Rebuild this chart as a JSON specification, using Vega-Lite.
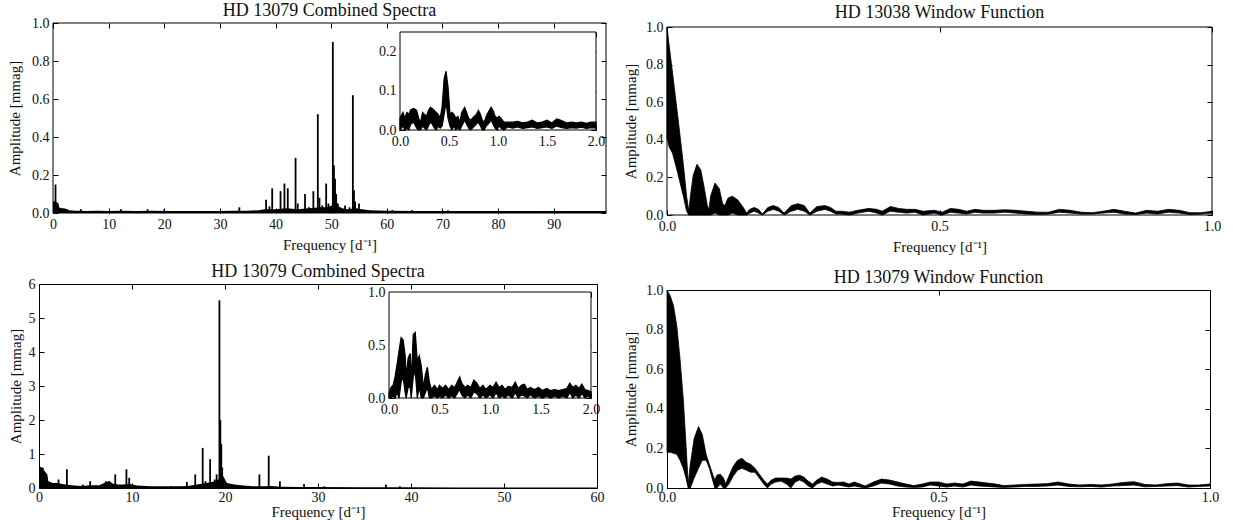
{
  "$schema": "https://vega.github.io/schema/vega-lite/v6.json",
  "padding": {"left": 7, "top": 2, "right": 0, "bottom": 0},
  "spacing": 16,
  "datasets": {
    "tlNoise": [
      {"f":0,"a":0.06},{"f":0.3,"a":0.06},{"f":0.8,"a":0.055},{"f":1.0,"a":0.05},{"f":1.1,"a":0.03},{"f":1.5,"a":0.025},{"f":2.0,"a":0.025},{"f":2.5,"a":0.02},{"f":3,"a":0.015},{"f":4,"a":0.012},{"f":5,"a":0.012},{"f":6,"a":0.01},{"f":8,"a":0.012},{"f":10,"a":0.01},{"f":12,"a":0.012},{"f":15,"a":0.01},{"f":18,"a":0.012},{"f":20,"a":0.01},{"f":25,"a":0.01},{"f":30,"a":0.01},{"f":33,"a":0.012},{"f":35,"a":0.012},{"f":37,"a":0.015},{"f":38,"a":0.02},{"f":40,"a":0.02},{"f":42,"a":0.025},{"f":44,"a":0.02},{"f":46,"a":0.025},{"f":48,"a":0.03},{"f":49.5,"a":0.03},{"f":50,"a":0.04},{"f":51,"a":0.04},{"f":52,"a":0.025},{"f":53,"a":0.02},{"f":54.5,"a":0.025},{"f":55.5,"a":0.02},{"f":57,"a":0.015},{"f":60,"a":0.012},{"f":65,"a":0.01},{"f":70,"a":0.01},{"f":75,"a":0.01},{"f":80,"a":0.01},{"f":85,"a":0.01},{"f":90,"a":0.01},{"f":95,"a":0.01},{"f":99.4,"a":0.01}
    ],
    "tlSpikes": [
      {"f":0.2,"a":0.06},{"f":0.45,"a":0.15},{"f":5.0,"a":0.02},{"f":12.2,"a":0.02},{"f":17,"a":0.02},{"f":20,"a":0.018},{"f":33.5,"a":0.03},{"f":38.3,"a":0.07},{"f":38.9,"a":0.035},{"f":39.4,"a":0.13},{"f":40.9,"a":0.115},{"f":41.6,"a":0.155},{"f":42.2,"a":0.13},{"f":43.6,"a":0.29},{"f":44.0,"a":0.05},{"f":45.3,"a":0.1},{"f":46.0,"a":0.03},{"f":46.8,"a":0.115},{"f":47.6,"a":0.52},{"f":47.9,"a":0.08},{"f":48.4,"a":0.04},{"f":49.1,"a":0.155},{"f":49.5,"a":0.05},{"f":50.3,"a":0.9},{"f":50.5,"a":0.25},{"f":50.7,"a":0.18},{"f":50.9,"a":0.1},{"f":51.2,"a":0.05},{"f":52.5,"a":0.04},{"f":53.3,"a":0.03},{"f":53.9,"a":0.62},{"f":54.1,"a":0.12},{"f":54.3,"a":0.06},{"f":55.0,"a":0.05},{"f":61,"a":0.015},{"f":64.5,"a":0.015},{"f":71,"a":0.015}
    ],
    "tlInset": [
      {"f":0.00,"lo":0.0,"hi":0.03},{"f":0.03,"lo":0.01,"hi":0.045},{"f":0.05,"lo":0.0,"hi":0.03},{"f":0.07,"lo":0.005,"hi":0.045},{"f":0.09,"lo":0.0,"hi":0.04},{"f":0.11,"lo":0.015,"hi":0.052},{"f":0.14,"lo":0.02,"hi":0.055},{"f":0.17,"lo":0.005,"hi":0.05},{"f":0.19,"lo":0.0,"hi":0.03},{"f":0.21,"lo":0.0,"hi":0.02},{"f":0.23,"lo":0.01,"hi":0.045},{"f":0.25,"lo":0.005,"hi":0.04},{"f":0.27,"lo":0.0,"hi":0.035},{"f":0.29,"lo":0.01,"hi":0.05},{"f":0.31,"lo":0.02,"hi":0.058},{"f":0.33,"lo":0.015,"hi":0.055},{"f":0.35,"lo":0.005,"hi":0.05},{"f":0.37,"lo":0.0,"hi":0.045},{"f":0.39,"lo":0.01,"hi":0.04},{"f":0.41,"lo":0.005,"hi":0.03},{"f":0.43,"lo":0.01,"hi":0.06},{"f":0.45,"lo":0.04,"hi":0.13},{"f":0.47,"lo":0.07,"hi":0.15},{"f":0.49,"lo":0.03,"hi":0.11},{"f":0.51,"lo":0.01,"hi":0.04},{"f":0.53,"lo":0.0,"hi":0.045},{"f":0.55,"lo":0.01,"hi":0.04},{"f":0.57,"lo":0.0,"hi":0.03},{"f":0.59,"lo":0.005,"hi":0.035},{"f":0.61,"lo":0.0,"hi":0.02},{"f":0.63,"lo":0.01,"hi":0.045},{"f":0.66,"lo":0.025,"hi":0.058},{"f":0.68,"lo":0.015,"hi":0.045},{"f":0.70,"lo":0.005,"hi":0.03},{"f":0.72,"lo":0.0,"hi":0.025},{"f":0.74,"lo":0.005,"hi":0.03},{"f":0.76,"lo":0.01,"hi":0.035},{"f":0.78,"lo":0.015,"hi":0.04},{"f":0.80,"lo":0.02,"hi":0.05},{"f":0.82,"lo":0.01,"hi":0.04},{"f":0.84,"lo":0.0,"hi":0.025},{"f":0.86,"lo":0.0,"hi":0.02},{"f":0.88,"lo":0.01,"hi":0.035},{"f":0.90,"lo":0.015,"hi":0.045},{"f":0.93,"lo":0.025,"hi":0.058},{"f":0.95,"lo":0.015,"hi":0.05},{"f":0.97,"lo":0.005,"hi":0.035},{"f":0.99,"lo":0.0,"hi":0.03},{"f":1.01,"lo":0.01,"hi":0.035},{"f":1.03,"lo":0.005,"hi":0.03},{"f":1.06,"lo":0.0,"hi":0.02},{"f":1.10,"lo":0.008,"hi":0.02},{"f":1.15,"lo":0.005,"hi":0.02},{"f":1.20,"lo":0.008,"hi":0.022},{"f":1.25,"lo":0.004,"hi":0.018},{"f":1.30,"lo":0.006,"hi":0.02},{"f":1.35,"lo":0.008,"hi":0.025},{"f":1.40,"lo":0.004,"hi":0.018},{"f":1.45,"lo":0.006,"hi":0.02},{"f":1.50,"lo":0.008,"hi":0.025},{"f":1.55,"lo":0.004,"hi":0.018},{"f":1.60,"lo":0.01,"hi":0.028},{"f":1.65,"lo":0.006,"hi":0.024},{"f":1.70,"lo":0.004,"hi":0.018},{"f":1.75,"lo":0.006,"hi":0.02},{"f":1.80,"lo":0.005,"hi":0.018},{"f":1.85,"lo":0.007,"hi":0.02},{"f":1.90,"lo":0.004,"hi":0.017},{"f":1.95,"lo":0.006,"hi":0.02},{"f":2.00,"lo":0.005,"hi":0.02}
    ],
    "blNoise": [
      {"f":0,"a":0.55},{"f":0.3,"a":0.6},{"f":0.6,"a":0.5},{"f":0.9,"a":0.4},{"f":1.0,"a":0.2},{"f":1.5,"a":0.15},{"f":2.0,"a":0.15},{"f":2.5,"a":0.12},{"f":3.5,"a":0.08},{"f":4.5,"a":0.06},{"f":5.5,"a":0.08},{"f":6.5,"a":0.08},{"f":7.0,"a":0.15},{"f":7.6,"a":0.2},{"f":8.0,"a":0.12},{"f":8.5,"a":0.1},{"f":9.0,"a":0.1},{"f":9.8,"a":0.12},{"f":10.5,"a":0.07},{"f":12,"a":0.05},{"f":14,"a":0.05},{"f":15,"a":0.05},{"f":16,"a":0.06},{"f":17,"a":0.1},{"f":18,"a":0.15},{"f":19,"a":0.2},{"f":19.8,"a":0.35},{"f":20.2,"a":0.15},{"f":21,"a":0.1},{"f":22,"a":0.07},{"f":23,"a":0.05},{"f":24,"a":0.05},{"f":25,"a":0.06},{"f":26,"a":0.04},{"f":28,"a":0.03},{"f":30,"a":0.03},{"f":35,"a":0.02},{"f":40,"a":0.02},{"f":45,"a":0.015},{"f":50,"a":0.015},{"f":55,"a":0.015},{"f":60,"a":0.015}
    ],
    "blSpikes": [
      {"f":0.15,"a":0.62},{"f":0.4,"a":0.6},{"f":2.1,"a":0.25},{"f":3.0,"a":0.55},{"f":4.7,"a":0.1},{"f":5.5,"a":0.2},{"f":7.2,"a":0.2},{"f":7.5,"a":0.2},{"f":8.2,"a":0.4},{"f":9.4,"a":0.55},{"f":9.7,"a":0.3},{"f":11.0,"a":0.06},{"f":14.2,"a":0.05},{"f":15.9,"a":0.18},{"f":16.8,"a":0.4},{"f":17.6,"a":1.18},{"f":17.9,"a":0.2},{"f":18.4,"a":0.85},{"f":18.9,"a":0.25},{"f":19.1,"a":0.4},{"f":19.4,"a":5.52},{"f":19.5,"a":2.0},{"f":19.6,"a":1.3},{"f":19.7,"a":0.6},{"f":23.7,"a":0.4},{"f":24.7,"a":0.95},{"f":25.9,"a":0.2},{"f":28.5,"a":0.12},{"f":30.7,"a":0.05},{"f":37.3,"a":0.1},{"f":38.8,"a":0.05}
    ],
    "blInset": [
      {"f":0.00,"lo":0.0,"hi":0.05},{"f":0.02,"lo":0.0,"hi":0.1},{"f":0.04,"lo":0.02,"hi":0.12},{"f":0.06,"lo":0.0,"hi":0.2},{"f":0.08,"lo":0.05,"hi":0.32},{"f":0.10,"lo":0.0,"hi":0.45},{"f":0.12,"lo":0.15,"hi":0.57},{"f":0.14,"lo":0.2,"hi":0.55},{"f":0.16,"lo":0.05,"hi":0.4},{"f":0.17,"lo":0.0,"hi":0.2},{"f":0.19,"lo":0.1,"hi":0.38},{"f":0.21,"lo":0.1,"hi":0.42},{"f":0.22,"lo":0.0,"hi":0.15},{"f":0.24,"lo":0.2,"hi":0.6},{"f":0.26,"lo":0.25,"hi":0.62},{"f":0.28,"lo":0.0,"hi":0.35},{"f":0.30,"lo":0.1,"hi":0.4},{"f":0.32,"lo":0.0,"hi":0.3},{"f":0.34,"lo":0.0,"hi":0.1},{"f":0.36,"lo":0.05,"hi":0.22},{"f":0.38,"lo":0.1,"hi":0.29},{"f":0.40,"lo":0.0,"hi":0.15},{"f":0.42,"lo":0.0,"hi":0.08},{"f":0.45,"lo":0.02,"hi":0.12},{"f":0.48,"lo":0.0,"hi":0.08},{"f":0.50,"lo":0.02,"hi":0.12},{"f":0.53,"lo":0.0,"hi":0.09},{"f":0.56,"lo":0.03,"hi":0.12},{"f":0.59,"lo":0.0,"hi":0.08},{"f":0.62,"lo":0.02,"hi":0.12},{"f":0.65,"lo":0.0,"hi":0.1},{"f":0.68,"lo":0.05,"hi":0.16},{"f":0.70,"lo":0.08,"hi":0.2},{"f":0.72,"lo":0.03,"hi":0.14},{"f":0.75,"lo":0.0,"hi":0.1},{"f":0.78,"lo":0.03,"hi":0.12},{"f":0.81,"lo":0.0,"hi":0.1},{"f":0.84,"lo":0.06,"hi":0.17},{"f":0.87,"lo":0.04,"hi":0.14},{"f":0.90,"lo":0.0,"hi":0.09},{"f":0.93,"lo":0.03,"hi":0.12},{"f":0.96,"lo":0.0,"hi":0.08},{"f":1.00,"lo":0.03,"hi":0.12},{"f":1.03,"lo":0.0,"hi":0.1},{"f":1.06,"lo":0.05,"hi":0.15},{"f":1.09,"lo":0.0,"hi":0.1},{"f":1.12,"lo":0.02,"hi":0.12},{"f":1.15,"lo":0.0,"hi":0.08},{"f":1.18,"lo":0.03,"hi":0.11},{"f":1.22,"lo":0.0,"hi":0.1},{"f":1.25,"lo":0.05,"hi":0.15},{"f":1.28,"lo":0.0,"hi":0.09},{"f":1.31,"lo":0.03,"hi":0.12},{"f":1.34,"lo":0.02,"hi":0.13},{"f":1.37,"lo":0.0,"hi":0.08},{"f":1.40,"lo":0.03,"hi":0.1},{"f":1.44,"lo":0.0,"hi":0.08},{"f":1.48,"lo":0.02,"hi":0.1},{"f":1.52,"lo":0.0,"hi":0.07},{"f":1.56,"lo":0.02,"hi":0.09},{"f":1.60,"lo":0.0,"hi":0.07},{"f":1.64,"lo":0.02,"hi":0.08},{"f":1.68,"lo":0.0,"hi":0.07},{"f":1.72,"lo":0.02,"hi":0.08},{"f":1.76,"lo":0.0,"hi":0.09},{"f":1.79,"lo":0.05,"hi":0.14},{"f":1.82,"lo":0.0,"hi":0.1},{"f":1.85,"lo":0.03,"hi":0.12},{"f":1.88,"lo":0.0,"hi":0.09},{"f":1.91,"lo":0.04,"hi":0.13},{"f":1.94,"lo":0.0,"hi":0.08},{"f":1.97,"lo":0.02,"hi":0.07},{"f":2.00,"lo":0.0,"hi":0.06}
    ],
    "trWin": [
      {"f":0.000,"lo":0.41,"hi":1.0},{"f":0.004,"lo":0.36,"hi":0.9},{"f":0.010,"lo":0.33,"hi":0.76},{"f":0.020,"lo":0.22,"hi":0.52},{"f":0.030,"lo":0.1,"hi":0.27},{"f":0.036,"lo":0.02,"hi":0.1},{"f":0.040,"lo":0.0,"hi":0.02},{"f":0.043,"lo":0.0,"hi":0.1},{"f":0.048,"lo":0.0,"hi":0.21},{"f":0.055,"lo":0.0,"hi":0.27},{"f":0.062,"lo":0.0,"hi":0.24},{"f":0.068,"lo":0.0,"hi":0.15},{"f":0.074,"lo":0.0,"hi":0.05},{"f":0.077,"lo":0.0,"hi":0.03},{"f":0.080,"lo":0.0,"hi":0.1},{"f":0.088,"lo":0.01,"hi":0.17},{"f":0.096,"lo":0.0,"hi":0.14},{"f":0.102,"lo":0.0,"hi":0.06},{"f":0.106,"lo":0.0,"hi":0.05},{"f":0.112,"lo":0.0,"hi":0.09},{"f":0.120,"lo":0.01,"hi":0.1},{"f":0.130,"lo":0.0,"hi":0.08},{"f":0.140,"lo":0.0,"hi":0.04},{"f":0.146,"lo":0.0,"hi":0.01},{"f":0.152,"lo":0.01,"hi":0.03},{"f":0.160,"lo":0.02,"hi":0.04},{"f":0.168,"lo":0.01,"hi":0.03},{"f":0.175,"lo":0.0,"hi":0.005},{"f":0.185,"lo":0.02,"hi":0.04},{"f":0.195,"lo":0.03,"hi":0.05},{"f":0.205,"lo":0.02,"hi":0.04},{"f":0.215,"lo":0.0,"hi":0.01},{"f":0.228,"lo":0.02,"hi":0.05},{"f":0.240,"lo":0.03,"hi":0.06},{"f":0.252,"lo":0.02,"hi":0.05},{"f":0.262,"lo":0.0,"hi":0.01},{"f":0.275,"lo":0.02,"hi":0.045},{"f":0.290,"lo":0.03,"hi":0.05},{"f":0.300,"lo":0.02,"hi":0.04},{"f":0.310,"lo":0.005,"hi":0.02},{"f":0.320,"lo":0.005,"hi":0.02},{"f":0.335,"lo":0.0,"hi":0.015},{"f":0.350,"lo":0.01,"hi":0.025},{"f":0.370,"lo":0.02,"hi":0.035},{"f":0.385,"lo":0.01,"hi":0.03},{"f":0.395,"lo":0.0,"hi":0.02},{"f":0.410,"lo":0.02,"hi":0.045},{"f":0.425,"lo":0.015,"hi":0.035},{"f":0.440,"lo":0.01,"hi":0.03},{"f":0.455,"lo":0.015,"hi":0.03},{"f":0.470,"lo":0.0,"hi":0.02},{"f":0.490,"lo":0.01,"hi":0.025},{"f":0.505,"lo":0.0,"hi":0.015},{"f":0.520,"lo":0.015,"hi":0.035},{"f":0.535,"lo":0.01,"hi":0.03},{"f":0.550,"lo":0.005,"hi":0.02},{"f":0.565,"lo":0.015,"hi":0.03},{"f":0.580,"lo":0.01,"hi":0.025},{"f":0.600,"lo":0.01,"hi":0.025},{"f":0.620,"lo":0.015,"hi":0.028},{"f":0.640,"lo":0.01,"hi":0.025},{"f":0.660,"lo":0.005,"hi":0.02},{"f":0.680,"lo":0.003,"hi":0.015},{"f":0.700,"lo":0.005,"hi":0.015},{"f":0.720,"lo":0.015,"hi":0.03},{"f":0.740,"lo":0.01,"hi":0.025},{"f":0.760,"lo":0.005,"hi":0.015},{"f":0.780,"lo":0.005,"hi":0.012},{"f":0.800,"lo":0.01,"hi":0.02},{"f":0.820,"lo":0.015,"hi":0.03},{"f":0.840,"lo":0.005,"hi":0.02},{"f":0.860,"lo":0.003,"hi":0.01},{"f":0.880,"lo":0.01,"hi":0.025},{"f":0.900,"lo":0.005,"hi":0.02},{"f":0.920,"lo":0.015,"hi":0.03},{"f":0.940,"lo":0.01,"hi":0.025},{"f":0.960,"lo":0.003,"hi":0.012},{"f":0.980,"lo":0.005,"hi":0.012},{"f":1.000,"lo":0.01,"hi":0.02}
    ],
    "brWin": [
      {"f":0.000,"lo":0.18,"hi":1.0},{"f":0.006,"lo":0.18,"hi":0.97},{"f":0.012,"lo":0.175,"hi":0.92},{"f":0.018,"lo":0.17,"hi":0.82},{"f":0.024,"lo":0.14,"hi":0.65},{"f":0.030,"lo":0.1,"hi":0.45},{"f":0.035,"lo":0.05,"hi":0.22},{"f":0.039,"lo":0.0,"hi":0.02},{"f":0.043,"lo":0.0,"hi":0.12},{"f":0.050,"lo":0.05,"hi":0.25},{"f":0.058,"lo":0.1,"hi":0.31},{"f":0.065,"lo":0.14,"hi":0.27},{"f":0.072,"lo":0.14,"hi":0.17},{"f":0.078,"lo":0.1,"hi":0.12},{"f":0.084,"lo":0.04,"hi":0.07},{"f":0.088,"lo":0.0,"hi":0.04},{"f":0.092,"lo":0.0,"hi":0.065},{"f":0.098,"lo":0.02,"hi":0.07},{"f":0.104,"lo":0.0,"hi":0.05},{"f":0.108,"lo":0.0,"hi":0.02},{"f":0.114,"lo":0.02,"hi":0.06},{"f":0.122,"lo":0.06,"hi":0.11},{"f":0.130,"lo":0.09,"hi":0.14},{"f":0.138,"lo":0.1,"hi":0.15},{"f":0.146,"lo":0.09,"hi":0.13},{"f":0.154,"lo":0.08,"hi":0.12},{"f":0.162,"lo":0.08,"hi":0.1},{"f":0.170,"lo":0.05,"hi":0.07},{"f":0.178,"lo":0.02,"hi":0.04},{"f":0.185,"lo":0.0,"hi":0.02},{"f":0.192,"lo":0.02,"hi":0.04},{"f":0.200,"lo":0.03,"hi":0.05},{"f":0.210,"lo":0.035,"hi":0.05},{"f":0.220,"lo":0.02,"hi":0.05},{"f":0.228,"lo":0.0,"hi":0.045},{"f":0.236,"lo":0.03,"hi":0.06},{"f":0.244,"lo":0.04,"hi":0.065},{"f":0.252,"lo":0.03,"hi":0.055},{"f":0.260,"lo":0.01,"hi":0.035},{"f":0.268,"lo":0.0,"hi":0.02},{"f":0.276,"lo":0.02,"hi":0.04},{"f":0.285,"lo":0.03,"hi":0.055},{"f":0.295,"lo":0.02,"hi":0.045},{"f":0.305,"lo":0.01,"hi":0.03},{"f":0.315,"lo":0.015,"hi":0.028},{"f":0.325,"lo":0.01,"hi":0.03},{"f":0.335,"lo":0.005,"hi":0.02},{"f":0.345,"lo":0.01,"hi":0.03},{"f":0.355,"lo":0.005,"hi":0.02},{"f":0.365,"lo":0.0,"hi":0.01},{"f":0.38,"lo":0.01,"hi":0.03},{"f":0.395,"lo":0.025,"hi":0.045},{"f":0.41,"lo":0.02,"hi":0.04},{"f":0.425,"lo":0.01,"hi":0.03},{"f":0.44,"lo":0.005,"hi":0.02},{"f":0.455,"lo":0.003,"hi":0.012},{"f":0.47,"lo":0.005,"hi":0.02},{"f":0.485,"lo":0.015,"hi":0.03},{"f":0.5,"lo":0.01,"hi":0.03},{"f":0.515,"lo":0.005,"hi":0.02},{"f":0.53,"lo":0.01,"hi":0.025},{"f":0.545,"lo":0.005,"hi":0.02},{"f":0.56,"lo":0.015,"hi":0.035},{"f":0.575,"lo":0.01,"hi":0.03},{"f":0.59,"lo":0.008,"hi":0.025},{"f":0.605,"lo":0.005,"hi":0.02},{"f":0.62,"lo":0.003,"hi":0.012},{"f":0.64,"lo":0.005,"hi":0.015},{"f":0.66,"lo":0.008,"hi":0.018},{"f":0.68,"lo":0.008,"hi":0.02},{"f":0.7,"lo":0.01,"hi":0.022},{"f":0.72,"lo":0.015,"hi":0.03},{"f":0.74,"lo":0.008,"hi":0.02},{"f":0.76,"lo":0.006,"hi":0.015},{"f":0.78,"lo":0.008,"hi":0.018},{"f":0.8,"lo":0.005,"hi":0.015},{"f":0.82,"lo":0.01,"hi":0.02},{"f":0.84,"lo":0.012,"hi":0.028},{"f":0.86,"lo":0.015,"hi":0.032},{"f":0.88,"lo":0.006,"hi":0.018},{"f":0.9,"lo":0.008,"hi":0.015},{"f":0.92,"lo":0.01,"hi":0.022},{"f":0.94,"lo":0.012,"hi":0.025},{"f":0.96,"lo":0.005,"hi":0.015},{"f":0.98,"lo":0.008,"hi":0.015},{"f":1.0,"lo":0.01,"hi":0.02}
    ],
    "tlFrame": [{"x0":0,"x1":2,"y0":0,"y1":0.25}],
    "blFrame": [{"x0":0,"x1":2,"y0":0,"y1":1}],
    "tlBox": [{"x0":0,"x1":99.4,"y0":0,"y1":1}],
    "trBox": [{"x0":0,"x1":1,"y0":0,"y1":1}]
  },
  "hconcat": [
    {
      "spacing": 10,
      "vconcat": [
        {
          "width": 567, "height": 190,
          "view": {"stroke": null},
          "title": {"text": "HD 13079 Combined Spectra", "dx": 7},
          "layer": [
            {
              "layer": [
                {
                  "data": {"name": "tlNoise"},
                  "mark": {"type": "area", "color": "black"},
                  "encoding": {
                    "x": {"field": "f", "type": "quantitative", "scale": {"domain": [0, 99.4], "range": [14, 567], "nice": false, "zero": false},
                          "axis": {"orient": "bottom", "values": [0,10,20,30,40,50,60,70,80,90], "format": "d", "title": "Frequency [d⁻¹]"}},
                    "y": {"field": "a", "type": "quantitative", "scale": {"domain": [0, 1], "nice": false},
                          "axis": {"orient": "left", "offset": -14, "values": [0,0.2,0.4,0.6,0.8,1.0], "format": ".1f", "title": "Amplitude [mmag]", "titlePadding": 9}}
                  }
                },
                {
                  "data": {"name": "tlSpikes"},
                  "mark": {"type": "rule", "color": "black", "strokeWidth": 1.8},
                  "encoding": {
                    "x": {"field": "f", "type": "quantitative", "axis": null},
                    "y": {"field": "a", "type": "quantitative", "axis": null},
                    "y2": {"datum": 0}
                  }
                },
                {
                  "data": {"name": "tlBox"},
                  "mark": {"type": "rect", "filled": false, "stroke": "black", "strokeWidth": 1},
                  "encoding": {
                    "x": {"field": "x0", "type": "quantitative", "axis": null},
                    "x2": {"field": "x1"},
                    "y": {"field": "y0", "type": "quantitative", "axis": null},
                    "y2": {"field": "y1"}
                  }
                },
                {
                  "data": {"name": "tlSpikes"},
                  "mark": {"type": "point", "opacity": 0},
                  "encoding": {
                    "x": {"field": "f", "type": "quantitative", "axis": {"orient": "top", "labels": false, "title": null, "values": [0,10,20,30,40,50,60,70,80,90]}},
                    "y": {"field": "a", "type": "quantitative", "axis": {"orient": "right", "labels": false, "title": null, "values": [0,0.2,0.4,0.6,0.8,1.0]}}
                  }
                }
              ]
            },
            {
              "layer": [
                {
                  "data": {"name": "tlFrame"},
                  "mark": {"type": "rect", "fill": "white", "stroke": "black", "strokeWidth": 1},
                  "encoding": {
                    "x": {"field": "x0", "type": "quantitative", "scale": {"domain": [0, 2], "range": [361, 557], "nice": false, "zero": false},
                          "axis": {"orient": "bottom", "offset": -83, "values": [0,0.5,1,1.5,2], "format": ".1f", "title": null}},
                    "x2": {"field": "x1"},
                    "y": {"field": "y0", "type": "quantitative", "scale": {"domain": [0, 0.25], "range": [107, 9], "nice": false},
                          "axis": {"orient": "left", "offset": -361, "values": [0,0.1,0.2], "format": ".1f", "title": null}},
                    "y2": {"field": "y1"}
                  }
                },
                {
                  "data": {"name": "tlInset"},
                  "mark": {"type": "area", "color": "black", "stroke": "black", "strokeWidth": 1.2},
                  "encoding": {
                    "x": {"field": "f", "type": "quantitative", "axis": null},
                    "y": {"field": "hi", "type": "quantitative", "axis": null},
                    "y2": {"field": "lo"}
                  }
                },
                {
                  "data": {"name": "tlFrame"},
                  "mark": {"type": "point", "opacity": 0},
                  "encoding": {
                    "x": {"field": "x0", "type": "quantitative", "axis": {"orient": "top", "offset": -9, "labels": false, "title": null, "values": [0,0.5,1,1.5,2]}},
                    "y": {"field": "y0", "type": "quantitative", "axis": {"orient": "right", "offset": -10, "labels": false, "title": null, "values": [0,0.1,0.2]}}
                  }
                }
              ]
            }
          ],
          "resolve": {"scale": {"x": "independent", "y": "independent"}}
        },
        {
          "width": 558, "height": 204,
          "title": "HD 13079 Combined Spectra",
          "layer": [
            {
              "layer": [
                {
                  "data": {"name": "blNoise"},
                  "mark": {"type": "area", "color": "black"},
                  "encoding": {
                    "x": {"field": "f", "type": "quantitative", "scale": {"domain": [0, 60], "nice": false, "zero": false},
                          "axis": {"orient": "bottom", "values": [0,10,20,30,40,50,60], "format": "d", "title": "Frequency [d⁻¹]", "titlePadding": 0, "labelPadding": 7}},
                    "y": {"field": "a", "type": "quantitative", "scale": {"domain": [0, 6], "nice": false},
                          "axis": {"orient": "left", "values": [0,1,2,3,4,5,6], "format": "d", "title": "Amplitude [mmag]", "titlePadding": 5}}
                  }
                },
                {
                  "data": {"name": "blSpikes"},
                  "mark": {"type": "rule", "color": "black", "strokeWidth": 1.8},
                  "encoding": {
                    "x": {"field": "f", "type": "quantitative", "axis": null},
                    "y": {"field": "a", "type": "quantitative", "axis": null},
                    "y2": {"datum": 0}
                  }
                },
                {
                  "data": {"name": "blSpikes"},
                  "mark": {"type": "point", "opacity": 0},
                  "encoding": {
                    "x": {"field": "f", "type": "quantitative", "axis": {"orient": "top", "labels": false, "title": null, "values": [0,10,20,30,40,50,60]}},
                    "y": {"field": "a", "type": "quantitative", "axis": {"orient": "right", "labels": false, "title": null, "values": [0,1,2,3,4,5,6]}}
                  }
                }
              ]
            },
            {
              "layer": [
                {
                  "data": {"name": "blFrame"},
                  "mark": {"type": "rect", "fill": "white", "stroke": "black", "strokeWidth": 1},
                  "encoding": {
                    "x": {"field": "x0", "type": "quantitative", "scale": {"domain": [0, 2], "range": [350, 552], "nice": false, "zero": false},
                          "axis": {"orient": "bottom", "offset": -90, "values": [0,0.5,1,1.5,2], "format": ".1f", "title": null}},
                    "x2": {"field": "x1"},
                    "y": {"field": "y0", "type": "quantitative", "scale": {"domain": [0, 1], "range": [114, 8], "nice": false},
                          "axis": {"orient": "left", "offset": -350, "values": [0,0.5,1], "format": ".1f", "title": null}},
                    "y2": {"field": "y1"}
                  }
                },
                {
                  "data": {"name": "blInset"},
                  "mark": {"type": "area", "color": "black", "stroke": "black", "strokeWidth": 1.2},
                  "encoding": {
                    "x": {"field": "f", "type": "quantitative", "axis": null},
                    "y": {"field": "hi", "type": "quantitative", "axis": null},
                    "y2": {"field": "lo"}
                  }
                },
                {
                  "data": {"name": "blFrame"},
                  "mark": {"type": "point", "opacity": 0},
                  "encoding": {
                    "x": {"field": "x0", "type": "quantitative", "axis": {"orient": "top", "offset": -8, "labels": false, "title": null, "values": [0,0.5,1,1.5,2]}},
                    "y": {"field": "y0", "type": "quantitative", "axis": {"orient": "right", "offset": -6, "labels": false, "title": null, "values": [0,0.5,1]}}
                  }
                }
              ]
            }
          ],
          "resolve": {"scale": {"x": "independent", "y": "independent"}}
        }
      ]
    },
    {
      "spacing": 14,
      "vconcat": [
        {
          "width": 545, "height": 192,
          "view": {"stroke": null},
          "title": {"text": "HD 13038 Window Function", "dy": -2},
          "layer": [
            {
              "data": {"name": "trWin"},
              "mark": {"type": "area", "color": "black", "stroke": "black", "strokeWidth": 0.8},
              "encoding": {
                "x": {"field": "f", "type": "quantitative", "scale": {"domain": [0, 1], "nice": false, "zero": false},
                      "axis": {"orient": "bottom", "values": [0,0.5,1], "format": ".1f", "title": "Frequency [d⁻¹]"}},
                "y": {"field": "hi", "type": "quantitative", "scale": {"domain": [0, 1], "range": [192, 4], "nice": false},
                      "axis": {"orient": "left", "values": [0,0.2,0.4,0.6,0.8,1.0], "format": ".1f", "title": "Amplitude [mmag]", "titlePadding": 7}},
                "y2": {"field": "lo"}
              }
            },
            {
              "data": {"name": "trBox"},
              "mark": {"type": "rect", "filled": false, "stroke": "black", "strokeWidth": 1},
              "encoding": {
                "x": {"field": "x0", "type": "quantitative", "axis": null},
                "x2": {"field": "x1"},
                "y": {"field": "y0", "type": "quantitative", "axis": null},
                "y2": {"field": "y1"}
              }
            },
            {
              "data": {"name": "trWin"},
              "mark": {"type": "point", "opacity": 0},
              "encoding": {
                "x": {"field": "f", "type": "quantitative", "axis": {"orient": "top", "offset": -4, "labels": false, "title": null, "values": [0,0.5,1]}},
                "y": {"field": "hi", "type": "quantitative", "axis": {"orient": "right", "labels": false, "title": null, "values": [0,0.2,0.4,0.6,0.8,1.0]}}
              }
            }
          ]
        },
        {
          "width": 543, "height": 198,
          "title": "HD 13079 Window Function",
          "layer": [
            {
              "data": {"name": "brWin"},
              "mark": {"type": "area", "color": "black", "stroke": "black", "strokeWidth": 0.8},
              "encoding": {
                "x": {"field": "f", "type": "quantitative", "scale": {"domain": [0, 1], "nice": false, "zero": false},
                      "axis": {"orient": "bottom", "values": [0,0.5,1], "format": ".1f", "title": "Frequency [d⁻¹]", "titlePadding": 0, "labelPadding": 7}},
                "y": {"field": "hi", "type": "quantitative", "scale": {"domain": [0, 1], "nice": false},
                      "axis": {"orient": "left", "values": [0,0.2,0.4,0.6,0.8,1.0], "format": ".1f", "title": "Amplitude [mmag]", "titlePadding": 7}},
                "y2": {"field": "lo"}
              }
            },
            {
              "data": {"name": "brWin"},
              "mark": {"type": "point", "opacity": 0},
              "encoding": {
                "x": {"field": "f", "type": "quantitative", "axis": {"orient": "top", "labels": false, "title": null, "values": [0,0.5,1]}},
                "y": {"field": "hi", "type": "quantitative", "axis": {"orient": "right", "labels": false, "title": null, "values": [0,0.2,0.4,0.6,0.8,1.0]}}
              }
            }
          ]
        }
      ]
    }
  ],
  "config": {
    "background": "white",
    "view": {"stroke": "black", "strokeWidth": 1},
    "font": "Liberation Serif",
    "axis": {
      "labelFont": "Liberation Serif", "titleFont": "Liberation Serif",
      "labelFontSize": 14, "titleFontSize": 15, "titleFontWeight": "normal",
      "labelColor": "#111", "titleColor": "#111",
      "tickColor": "black", "tickSize": -5, "tickWidth": 1, "labelPadding": 9,
      "titlePadding": 6,
      "domain": false, "grid": false, "labelOverlap": false, "labelFlush": false, "labelBound": false,
      "zindex": 1
    },
    "title": {"font": "Liberation Serif", "fontSize": 18, "fontWeight": "normal", "color": "#111", "offset": -4}
  }
}
